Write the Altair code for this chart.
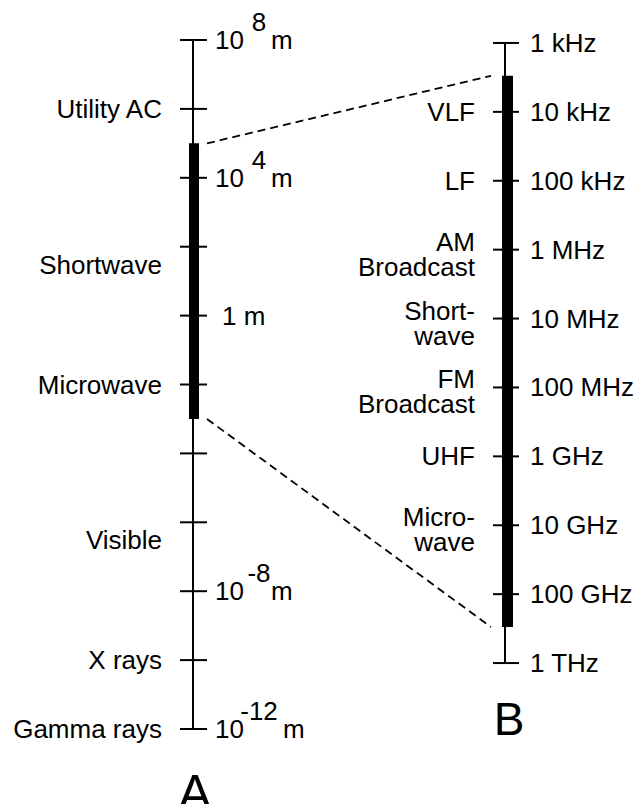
import altair as alt
import pandas as pd

# ---------------- data ----------------
# Panel A: wavelength axis (metres)
left_tick_wavelengths = [1e8, 1e6, 1e4, 1e2, 1e0, 1e-2, 1e-4, 1e-6, 1e-8, 1e-10, 1e-12]
left_band_names = ["Utility AC", "Shortwave", "Microwave", "Visible", "X rays", "Gamma rays"]
left_band_wavelengths = [1e6, 30, 1e-2, 3e-7, 1e-10, 1e-12]
left_power_wavelengths = [1e8, 1e4, 1e-8, 1e-12]
left_power_exponents = ["8", "4", "-8", "-12"]
left_plain_wavelengths = [1.0]
left_plain_labels = ["1 m"]
radio_wavelength_range = [1e5, 1e-3]

# Panel B: frequency axis (Hz)
right_tick_freqs = [1e3, 1e4, 1e5, 1e6, 1e7, 1e8, 1e9, 1e10, 1e11, 1e12]
right_tick_labels = ["1 kHz", "10 kHz", "100 kHz", "1 MHz", "10 MHz",
                     "100 MHz", "1 GHz", "10 GHz", "100 GHz", "1 THz"]
right_band_names = ["VLF", "LF", "AM\nBroadcast", "Short-\nwave",
                    "FM\nBroadcast", "UHF", "Micro-\nwave"]
right_band_freqs = [1e4, 1e5, 1e6, 1e7, 1e8, 1e9, 1e10]
radio_freq_range = [3e3, 3e11]
panel_letters = ["A", "B"]

# ---------------- style / layout ----------------
FONT = "Liberation Sans"
FS = 26
W, H = 625, 796
C = 3e8            # speed of light: frequency -> wavelength
ZOOM = 2.0         # panel B is a 2x magnified view
SHIFT = -3.04      # vertical placement of panel B (in decades)

ysc = alt.Scale(type="log", domain=[10 ** -14.177, 10 ** 8.929], nice=False, zero=False)


def Y(f):
    return alt.Y(f"{f}:Q", scale=ysc, axis=None)


def disp(field):
    return f"pow(10, {ZOOM} * log({C} / datum.{field}) / LN10 + ({SHIFT}))"


BLACK = "#000000"

# ---------------- panel A ----------------
axA = alt.Chart(pd.DataFrame({"top": [max(left_tick_wavelengths)],
                              "bot": [min(left_tick_wavelengths)]})).mark_rule(
    color=BLACK, strokeWidth=2).encode(x=alt.value(185), y=Y("top"), y2="bot:Q")

ticksA = alt.Chart(pd.DataFrame({"w": left_tick_wavelengths})).mark_rule(
    color=BLACK, strokeWidth=2).encode(x=alt.value(172), x2=alt.value(199), y=Y("w"))

barA = alt.Chart(pd.DataFrame({"top": [radio_wavelength_range[0]],
                               "bot": [radio_wavelength_range[1]]})).mark_rule(
    color=BLACK, strokeWidth=10, strokeCap="butt").encode(
    x=alt.value(186), y=Y("top"), y2="bot:Q")

txt = dict(font=FONT, fontSize=FS, color=BLACK, baseline="alphabetic")

bandsA = alt.Chart(pd.DataFrame({"name": left_band_names, "w": left_band_wavelengths})).mark_text(
    align="right", dy=9, **txt).encode(x=alt.value(154), y=Y("w"), text="name:N")

powdf = pd.DataFrame({"w": left_power_wavelengths, "e": left_power_exponents})
tenA = alt.Chart(powdf).mark_text(align="left", dy=9, **txt).encode(
    x=alt.value(207), y=Y("w"), text=alt.value("10"))
expA = alt.Chart(powdf).mark_text(align="center", dy=-9, **txt).encode(
    x=alt.value(251), y=Y("w"), text="e:N")
mShort = alt.Chart(powdf).transform_filter("length(datum.e) <= 2").mark_text(
    align="left", dy=9, **txt).encode(x=alt.value(263), y=Y("w"), text=alt.value("m"))
mLong = alt.Chart(powdf).transform_filter("length(datum.e) > 2").mark_text(
    align="left", dy=9, **txt).encode(x=alt.value(275), y=Y("w"), text=alt.value("m"))
plainA = alt.Chart(pd.DataFrame({"w": left_plain_wavelengths, "t": left_plain_labels})).mark_text(
    align="left", dy=9, **txt).encode(x=alt.value(214), y=Y("w"), text="t:N")

# ---------------- panel B ----------------
axB = alt.Chart(pd.DataFrame({"f1": [min(right_tick_freqs)], "f2": [max(right_tick_freqs)]})).transform_calculate(
    y1=disp("f1"), y2=disp("f2")).mark_rule(color=BLACK, strokeWidth=2).encode(
    x=alt.value(497), y=Y("y1"), y2="y2:Q")

ticksB = alt.Chart(pd.DataFrame({"f": right_tick_freqs})).transform_calculate(
    yy=disp("f")).mark_rule(color=BLACK, strokeWidth=2).encode(
    x=alt.value(485), x2=alt.value(511), y=Y("yy"))

barB = alt.Chart(pd.DataFrame({"f1": [radio_freq_range[0]], "f2": [radio_freq_range[1]]})).transform_calculate(
    y1=disp("f1"), y2=disp("f2")).mark_rule(color=BLACK, strokeWidth=11, strokeCap="butt").encode(
    x=alt.value(499.5), y=Y("y1"), y2="y2:Q")

freqLabels = alt.Chart(pd.DataFrame({"f": right_tick_freqs, "t": right_tick_labels})).transform_calculate(
    yy=disp("f")).mark_text(align="left", dy=9, **txt).encode(
    x=alt.value(522), y=Y("yy"), text="t:N")

banddf = pd.DataFrame({"name": right_band_names, "f": right_band_freqs})
bandsB1 = alt.Chart(banddf).transform_filter("indexof(datum.name, '\\n') < 0").transform_calculate(
    yy=disp("f")).mark_text(align="right", dy=9, **txt).encode(
    x=alt.value(467), y=Y("yy"), text="name:N")
bandsB2 = alt.Chart(banddf).transform_filter("indexof(datum.name, '\\n') >= 0").transform_calculate(
    yy=disp("f")).mark_text(align="right", dy=1, lineBreak="\n", lineHeight=25, **txt).encode(
    x=alt.value(467), y=Y("yy"), text="name:N")

# ---------------- connectors ----------------
conn = alt.Chart(pd.DataFrame({"w": radio_wavelength_range, "f": radio_freq_range})).transform_calculate(
    yy=disp("f")).mark_rule(color=BLACK, strokeWidth=1.8, strokeDash=[8, 5]).encode(
    x=alt.value(199), x2=alt.value(483), y=Y("w"), y2="yy:Q")

# ---------------- panel letters ----------------
letterA = alt.Chart(pd.DataFrame({"t": [panel_letters[0]]})).mark_text(
    align="center", font=FONT, fontSize=50, color=BLACK, baseline="alphabetic").encode(
    x=alt.value(187), y=alt.value(802), text="t:N")
letterB = alt.Chart(pd.DataFrame({"t": [panel_letters[1]]})).mark_text(
    align="center", font=FONT, fontSize=46, color=BLACK, baseline="alphabetic").encode(
    x=alt.value(501), y=alt.value(727), text="t:N")

chart = alt.layer(
    conn, axA, ticksA, barA, bandsA, tenA, expA, mShort, mLong, plainA,
    axB, ticksB, barB, freqLabels, bandsB1, bandsB2, letterA, letterB
).properties(
    width=W, height=H, padding=0, autosize=alt.AutoSizeParams(type="none"), background="white"
).configure_view(stroke=None)

chart.save("out.html", embed_options={"renderer": "svg", "actions": False})
